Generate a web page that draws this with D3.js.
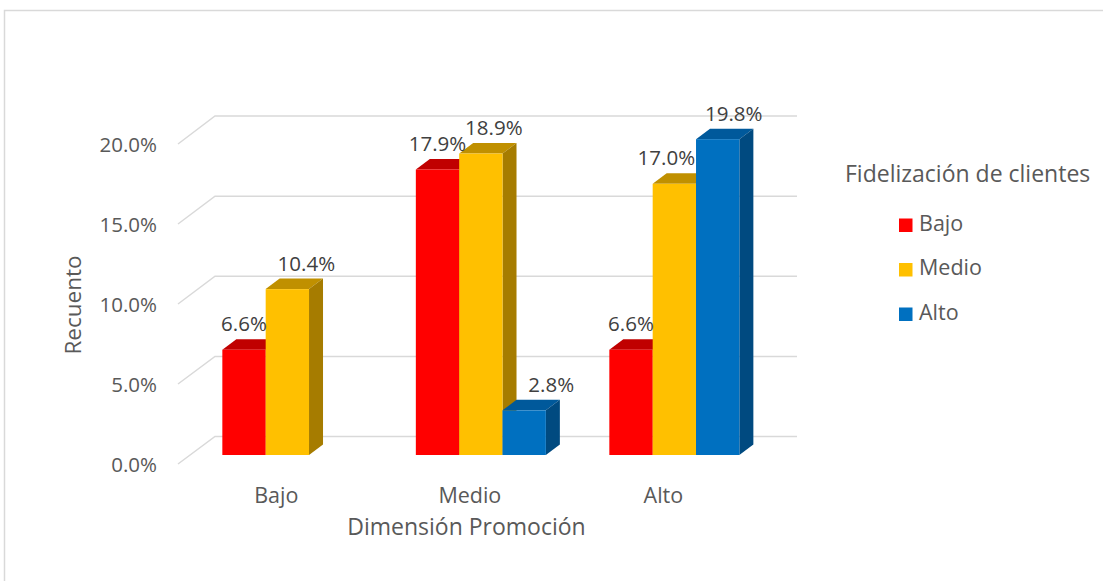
<!DOCTYPE html>
<html>
<head>
<meta charset="utf-8">
<script src="https://cdn.jsdelivr.net/npm/d3@7/dist/d3.min.js"></script>
<style>
  html, body { margin: 0; padding: 0; background: #fff; }
  svg { display: block; font-family: "Open Sans", sans-serif; }
</style>
</head>
<body>
<svg id="chart" width="1103" height="581"></svg>
<script>
// ---- data ----
const categories = ["Bajo", "Medio", "Alto"];
const series = ["Bajo", "Medio", "Alto"];
const valuesBajo  = [6.6, 17.9, 6.6];   // series "Bajo" per category
const valuesMedio = [10.4, 18.9, 17.0]; // series "Medio"
const valuesAlto  = [null, 2.8, 19.8];  // series "Alto"
const yTicks = [0, 5, 10, 15, 20];
const yTickLabels = ["0.0%", "5.0%", "10.0%", "15.0%", "20.0%"];
const legendTitle = "Fidelización de clientes";
const xTitle = "Dimensión Promoción";
const yTitle = "Recuento";

// ---- styles ----
const faceColors = ["#FF0000", "#FFC000", "#0070C0"];
const topColors  = ["#C00000", "#C09000", "#00599B"];
const sideColors = ["#A00000", "#A67C00", "#004A80"];
const textColor = "#595959";
const gridColor = "#D9D9D9";
// horizontal label nudges (per category, per series) as in the original
const labelNudge = [[0, 19, 0], [0, 13, 27], [0, -8, 16]];

const seriesValues = [valuesBajo, valuesMedio, valuesAlto];
const svg = d3.select("#chart");

// border
svg.append("rect").attr("x", 4.5).attr("y", 10.5).attr("width", 1200).attr("height", 700)
  .attr("fill", "none").attr("stroke", gridColor).attr("stroke-width", 1.5);

// scales
const x = d3.scaleBand().domain(categories).range([190.6, 771.1])
  .paddingInner(0.328).paddingOuter(0.164);
const xs = d3.scaleBand().domain(series).range([0, x.bandwidth()]);
const y = d3.scaleLinear().domain([0, 20]).range([455, 136]);
const yFront = d3.scaleLinear().domain([0, 20]).range([464, 144]);
const yBack = d3.scaleLinear().domain([0, 20]).range([436.5, 116]);
const wallLeftFront = 178, wallLeftBack = 215, wallRight = 797;
const depthX = 14, depthY = -10.5;

// gridlines (side wall diagonal + back wall)
const grid = svg.append("g").attr("stroke", gridColor).attr("stroke-width", 1.5).attr("fill", "none");
yTicks.forEach(t => {
  grid.append("path").attr("d",
    `M${wallLeftFront},${yFront(t)} L${wallLeftBack},${yBack(t)} L${wallRight},${yBack(t)}`);
});

// y tick labels
svg.append("g").selectAll("text").data(yTicks).join("text")
  .attr("x", 157).attr("y", d => yFront(d) + 3)
  .attr("text-anchor", "end").attr("dominant-baseline", "middle")
  .attr("fill", textColor).attr("font-size", 20.5)
  .text((d, i) => yTickLabels[i]);

// bars
const bars = [];
categories.forEach((c, ci) => {
  series.forEach((s, si) => {
    const v = seriesValues[si][ci];
    if (v == null) return;
    bars.push({ c, ci, s, si, v });
  });
});
const barG = svg.append("g");
bars.forEach(b => {
  const x0 = x(b.c) + xs(b.s), x1 = x0 + xs.bandwidth();
  const yT = y(b.v), yB = y(0);
  const g = barG.append("g");
  g.append("path").attr("d",
    `M${x0},${yT} L${x0 + depthX},${yT + depthY} L${x1 + depthX},${yT + depthY} L${x1},${yT} Z`)
    .attr("fill", topColors[b.si]);
  g.append("path").attr("d",
    `M${x1},${yT} L${x1 + depthX},${yT + depthY} L${x1 + depthX},${yB + depthY} L${x1},${yB} Z`)
    .attr("fill", sideColors[b.si]);
  g.append("rect").attr("x", x0).attr("y", yT).attr("width", x1 - x0).attr("height", yB - yT)
    .attr("fill", faceColors[b.si]);
});

// data labels
svg.append("g").selectAll("text").data(bars).join("text")
  .attr("x", d => x(d.c) + xs(d.s) + xs.bandwidth() / 2 + labelNudge[d.ci][d.si])
  .attr("y", d => y(d.v) - 18.5)
  .attr("text-anchor", "middle").attr("fill", "#404040").attr("font-size", 20.5)
  .text(d => d.v.toFixed(1) + "%");

// category labels
svg.append("g").selectAll("text").data(categories).join("text")
  .attr("x", d => x(d) + x.bandwidth() / 2 - 11).attr("y", 503)
  .attr("text-anchor", "middle").attr("fill", textColor).attr("font-size", 21.5)
  .text(d => d);

// axis titles
svg.append("text").attr("x", 466.5).attr("y", 535).attr("text-anchor", "middle")
  .attr("fill", textColor).attr("font-size", 23).text(xTitle);
svg.append("text").attr("transform", "translate(81,305) rotate(-90)").attr("text-anchor", "middle")
  .attr("fill", textColor).attr("font-size", 22.5).text(yTitle);

// legend
svg.append("text").attr("x", 845).attr("y", 181.5).attr("fill", textColor).attr("font-size", 23)
  .text(legendTitle);
const leg = svg.append("g").selectAll("g").data(series).join("g")
  .attr("transform", (d, i) => `translate(899, ${225 + i * 44.5})`);
leg.append("rect").attr("x", 0).attr("y", -6.5).attr("width", 13.5).attr("height", 13.5)
  .attr("fill", (d, i) => faceColors[i]);
leg.append("text").attr("x", 20).attr("y", 0).attr("dominant-baseline", "middle")
  .attr("fill", textColor).attr("font-size", 21.5).text(d => d);
</script>
</body>
</html>
